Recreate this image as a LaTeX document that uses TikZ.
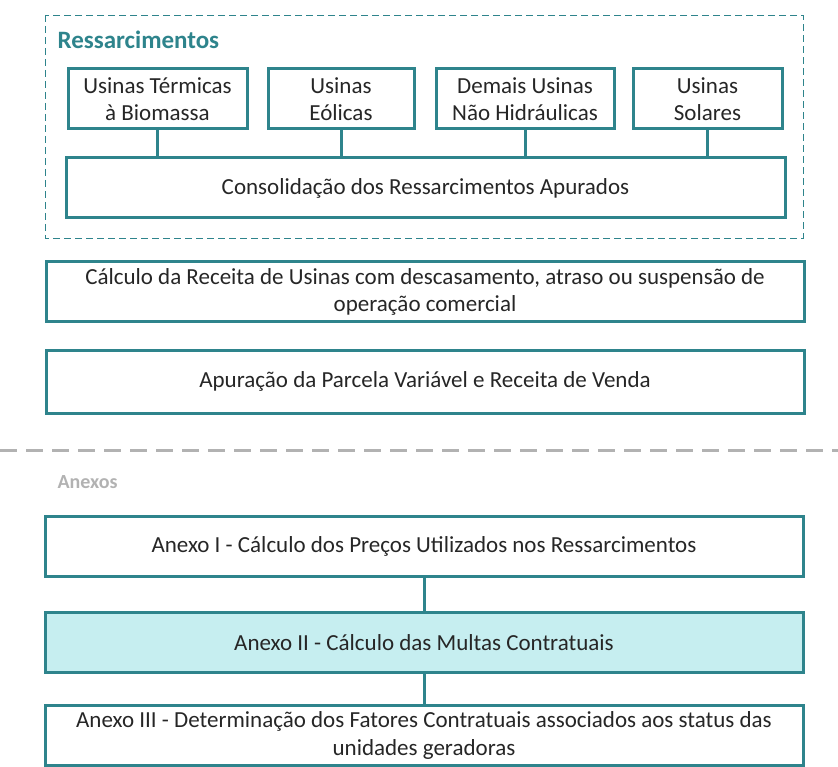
\documentclass[tikz,border=0pt]{standalone}
\usepackage{fontspec}
\setmainfont{Carlito}
\definecolor{verde}{RGB}{46,132,140}
\definecolor{ciano}{RGB}{198,238,240}
\definecolor{cinza}{RGB}{178,178,178}
\definecolor{texto}{RGB}{38,38,38}
\begin{document}
\begin{tikzpicture}[x=1pt,y=-1pt,
    caixa/.style={draw=verde, line width=3pt, align=center, inner sep=0pt, text=texto,
      minimum height=60pt, font=\fontsize{23}{27.5}\selectfont},
    larga/.style={caixa, minimum width=758pt},
    ligacao/.style={draw=verde, line width=3pt}]
    \useasboundingbox (0,0) rectangle (838,767);
    %grupo ressarcimentos
    \draw[verde, line width=0.8pt, dash pattern=on 7pt off 4pt] (45,15) rectangle (803,238);
    \node[anchor=west, text=verde, font=\fontsize{25}{30}\selectfont\bfseries] at (54,40) (tressarc) {Ressarcimentos};
    %%%% USINAS
    \node[caixa, minimum width=179pt] at (157.5,99) (termicas) {Usinas Térmicas\\à Biomassa};
    \node[caixa, minimum width=146pt] at (341,99) (eolicas) {Usinas\\Eólicas};
    \node[caixa, minimum width=178pt] at (525,99) (demais) {Demais Usinas\\Não Hidráulicas};
    \node[caixa, minimum width=149pt] at (707.5,99) (solares) {Usinas\\Solares};
    \node[caixa, minimum width=719pt] at (425.5,188) (consol) {Consolidação dos Ressarcimentos Apurados};
    %%%LIGACOES
    \foreach \u in {termicas,eolicas,demais,solares}
      \draw[ligacao] (\u.south) -- (\u.south |- consol.north);
    %%%% RECEITA
    \node[larga] at (425,292) (receita) {Cálculo da Receita de Usinas com descasamento, atraso ou suspensão de\\operação comercial};
    \node[larga, minimum height=63pt] at (425,381.5) (apuracao) {Apuração da Parcela Variável e Receita de Venda};
    %separador
    \coordinate (sepini) at (0,450);
    \coordinate (sepfim) at (838,450);
    \draw[cinza, line width=3pt, dash pattern=on 17pt off 9pt] (sepini) -- (sepfim);
    %%%ANEXOS
    \node[anchor=west, text=cinza, font=\fontsize{20}{24}\selectfont\bfseries] at (54,482) (tanexos) {Anexos};
    \node[larga] at (424,546) (anexoi) {Anexo I - Cálculo dos Preços Utilizados nos Ressarcimentos};
    \node[larga, fill=ciano] at (424,642.5) (anexoii) {Anexo II - Cálculo das Multas Contratuais};
    \node[larga] at (424,735.5) (anexoiii) {Anexo III - Determinação dos Fatores Contratuais associados aos status das\\unidades geradoras};
    \draw[ligacao] (anexoi) -- (anexoii);
    \draw[ligacao] (anexoii) -- (anexoiii);
\end{tikzpicture}
\end{document}
